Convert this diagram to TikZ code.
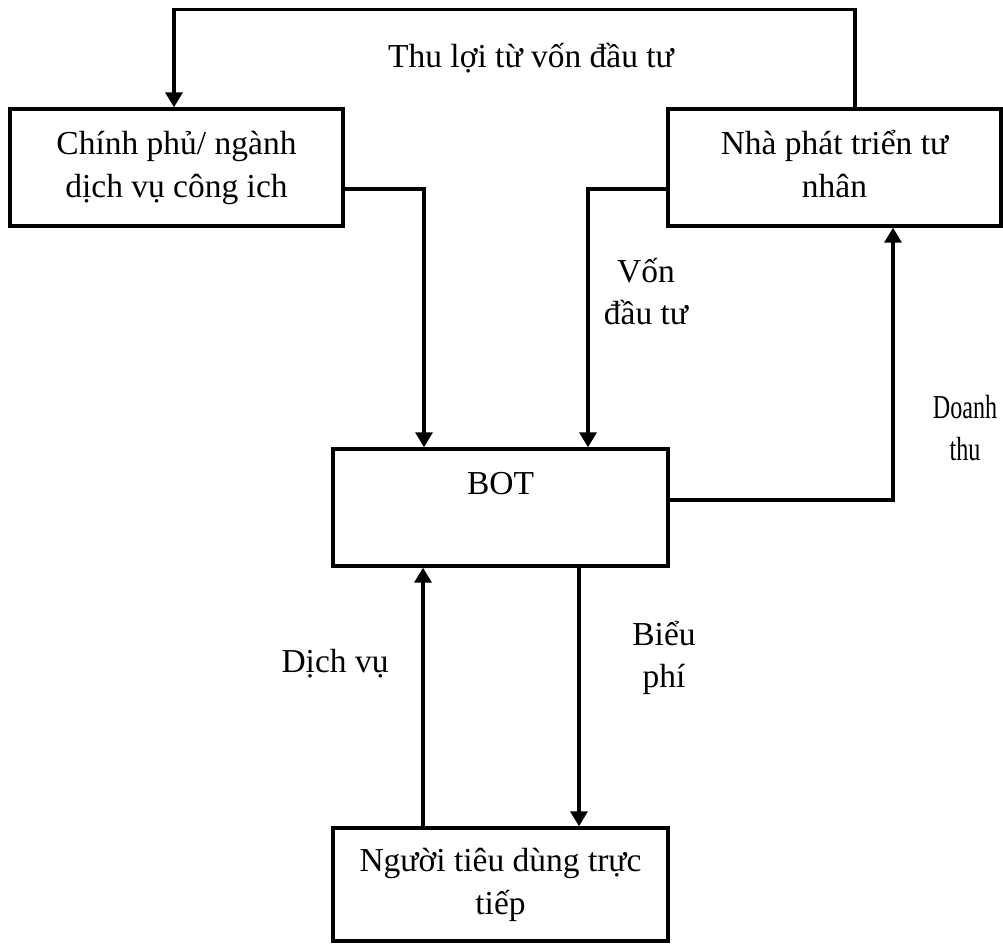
\documentclass[tikz,border=0pt]{standalone}
\usepackage{fontspec}
\usepackage{graphicx}
\setmainfont{Liberation Serif}
\usetikzlibrary{arrows.meta}
% one line of a two-line label: fixed strut, accents kept from changing the height
\newcommand{\boxline}[1]{\strut\smash{#1}}
% narrow setting for the text beside the revenue line
\newcommand{\narrow}[1]{\scalebox{0.72}[1]{#1}}
\begin{document}
\begin{tikzpicture}[x=1pt,y=-1pt,
  every node/.style={font=\fontsize{33.5}{42.5}\selectfont},
  box/.style={draw, line width=3.4pt, rectangle, inner sep=0pt, align=center,
              minimum width=333pt, minimum height=117pt},
  lbl/.style={inner sep=0pt, align=center},
  arr/.style={line width=3.4pt, -{Triangle[width=17pt,length=15pt]}}]
\useasboundingbox (0,0) rectangle (1003,944);

% boxes
\node[box] (chinh) at (176.5,167.5) {\boxline{Chính phủ/ ngành}\\\boxline{dịch vụ công ich}};
\node[box] (nha)   at (834.5,167.5) {\boxline{Nhà phát triển tư}\\\boxline{nhân}};
\node[box, minimum width=335pt] (bot) at (500.5,507.5) {\boxline{BOT}\\\boxline{}};
\node[box, minimum width=335pt, minimum height=113pt] (nguoi) at (500.5,884.5)
  {\boxline{Người tiêu dùng trực}\\\boxline{tiếp}};

% flow labels
\node[lbl, anchor=base] (thuloi) at (531,68) {Thu lợi từ vốn đầu tư};
\node[lbl] (von)   at (646,295) {\boxline{Vốn}\\\boxline{đầu tư}};
\node[lbl] (doanh) at (965,431) {\boxline{\narrow{Doanh}}\\\boxline{\narrow{thu}}};
\node[lbl] (bieu)  at (664,658) {\boxline{Biểu}\\\boxline{phí}};
\node[lbl, anchor=base] (dichvu) at (335,672) {Dịch vụ};

% connectors
\draw[arr] ([xshift=20.5pt]nha.north) |- ([xshift=-2.5pt,yshift=98pt]chinh.north)
           -- ([xshift=-2.5pt]chinh.north);
\draw[arr] ([yshift=-21.5pt]chinh.east) -| ([xshift=-76.5pt]bot.north);
\draw[arr] ([yshift=-21.5pt]nha.west) -| ([xshift=87.5pt]bot.north);
\draw[arr] ([yshift=7.5pt]bot.east) -| ([xshift=58.5pt]nha.south);
\draw[arr] ([xshift=78.5pt]bot.south) -- ([xshift=78.5pt]nguoi.north);
\draw[arr] ([xshift=-77.5pt]nguoi.north) -- ([xshift=-77.5pt]bot.south);
\end{tikzpicture}
\end{document}
